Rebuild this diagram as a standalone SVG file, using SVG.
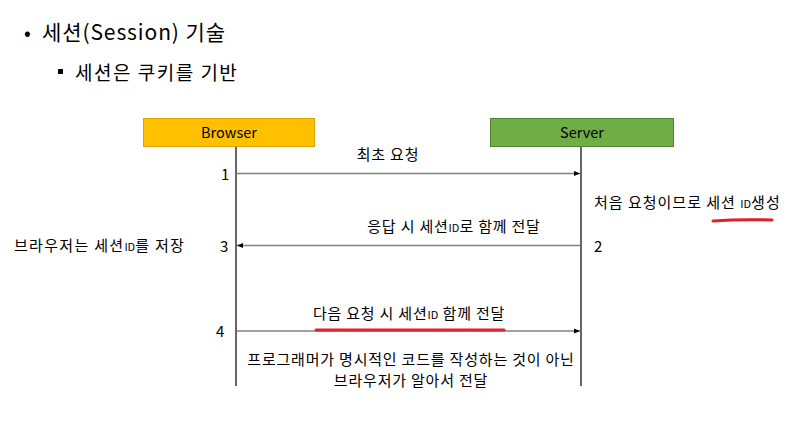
<svg xmlns="http://www.w3.org/2000/svg" width="812" height="429" viewBox="0 0 812 429">
<style>
text { font-family: "Noto Sans CJK KR", "Noto Sans", sans-serif; fill: #000; }
.t { font-size: 15px; letter-spacing: 0.8px; }
.n { font-size: 15px; }
.id { font-size: 11px; letter-spacing: 0; }
.life { stroke: #000; stroke-width: 1.2; fill: none; }
.msg { stroke: #808080; stroke-width: 1.5; fill: none; }
.red { stroke: #e0202a; stroke-width: 3; stroke-linecap: round; fill: none; }
</style>
<defs>
<marker id="ah" viewBox="0 0 10 10" refX="10" refY="5" markerWidth="6" markerHeight="6" markerUnits="userSpaceOnUse" orient="auto">
<path d="M0,1 L10,5 L0,9 Z" fill="#000"/>
</marker>
</defs>
<rect width="812" height="429" fill="#fff"/>
<g id="title">
<text x="24" y="40" font-size="20">•</text>
<text x="42" y="40" font-size="21" letter-spacing="0.9">세션(Session) 기술</text>
<rect x="58" y="69" width="5" height="5" fill="#000"/>
<text x="75" y="80" font-size="19" letter-spacing="1.5">세션은 쿠키를 기반</text>
</g>
<g id="browser">
<rect x="143.5" y="118.5" width="171" height="28" fill="#FFC000" stroke="#D9A300"/>
<text x="229" y="138" font-size="14.5" text-anchor="middle">Browser</text>
</g>
<g id="server">
<rect x="490.5" y="118.5" width="183" height="28" fill="#70AD47" stroke="#548235"/>
<text x="582" y="138" font-size="14.5" text-anchor="middle">Server</text>
</g>
<g id="connectors">
<line class="life" x1="236" y1="147" x2="236" y2="386"/>
<line class="life" x1="581" y1="147" x2="581" y2="386"/>
<line class="msg" x1="237" y1="173.5" x2="580" y2="173.5" marker-end="url(#ah)"/>
<line class="msg" x1="580" y1="245.5" x2="237" y2="245.5" marker-end="url(#ah)"/>
<line class="msg" x1="237" y1="331" x2="580" y2="331" marker-end="url(#ah)"/>
</g>
<g id="labels">
<text class="t" x="388" y="160" text-anchor="middle">최초 요청</text>
<text class="n" x="221" y="180">1</text>
<text class="t" x="594" y="208" style="letter-spacing:1px">처음 요청이므로 세션 <tspan class="id">ID</tspan>생성</text>
<path class="red" d="M713,221 Q740,219 772,220"/>
<text class="t" x="454" y="232" text-anchor="middle">응답 시 세션<tspan class="id">ID</tspan>로 함께 전달</text>
<text class="n" x="594" y="252">2</text>
<text class="n" x="220" y="252">3</text>
<text class="t" x="14" y="251" style="letter-spacing:1.3px">브라우저는 세션<tspan class="id">ID</tspan>를 저장</text>
<text class="t" x="409" y="319" text-anchor="middle">다음 요청 시 세션<tspan class="id">ID</tspan> 함께 전달</text>
<path class="red" d="M316,330 L504,330"/>
<text class="n" x="216" y="337">4</text>
<text class="t" x="411" y="365" text-anchor="middle">프로그래머가 명시적인 코드를 작성하는 것이 아닌</text>
<text class="t" x="411" y="386" text-anchor="middle">브라우저가 알아서 전달</text>
</g>
</svg>
